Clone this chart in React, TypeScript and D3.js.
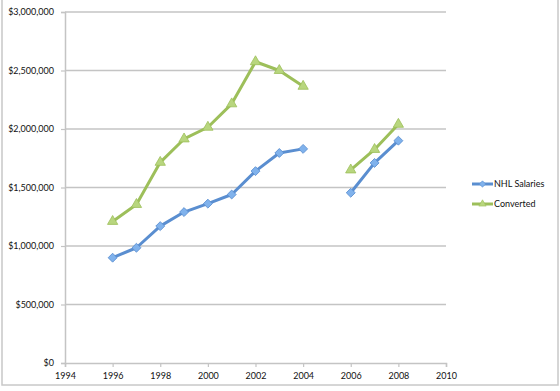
import React, { useEffect, useRef } from 'react';
import * as d3 from 'd3';

const years = [1996, 1997, 1998, 1999, 2000, 2001, 2002, 2003, 2004, 2005, 2006, 2007, 2008];
const nhlSalaries = [900000, 985000, 1170000, 1290000, 1362000, 1440000, 1640000, 1795000, 1830000, null, 1455000, 1710000, 1900000];
const converted = [1210000, 1355000, 1715000, 1915000, 2015000, 2215000, 2575000, 2500000, 2365000, null, 1650000, 1825000, 2040000];
const xTicks = [1994, 1996, 1998, 2000, 2002, 2004, 2006, 2008, 2010];
const yTicks = [0, 500000, 1000000, 1500000, 2000000, 2500000, 3000000];

const width = 560;
const height = 391;

const App = () => {
	const ref = useRef<SVGSVGElement>(null);

	useEffect(() => {
		if (!ref.current) return;
		const svg = d3.select(ref.current);
		svg.selectAll('*').remove();

		const font = 'Lato, "Open Sans", sans-serif';
		const gridColor = '#c4c4c4';

		const x = d3.scaleLinear().domain([1994, 2010]).range([65, 446]);
		const y = d3.scaleLinear().domain([0, 3000000]).range([363, 12]);

		// chart frame
		svg.append('rect')
			.attr('x', 2)
			.attr('y', -2)
			.attr('width', 556)
			.attr('height', 387)
			.attr('fill', '#fff')
			.attr('stroke', '#c8c8c8')
			.attr('stroke-width', 1.5);

		// gridlines
		svg.append('g')
			.selectAll('line')
			.data(yTicks.slice(1))
			.join('line')
			.attr('x1', x(1994))
			.attr('x2', x(2010))
			.attr('y1', d => y(d))
			.attr('y2', d => y(d))
			.attr('stroke', gridColor)
			.attr('stroke-width', 1.5);

		const fmt = (v: number) => '$' + d3.format(',')(v);

		const yAxis = svg.append('g')
			.attr('transform', `translate(${x(1994)},0)`)
			.call(d3.axisLeft(y).tickValues(yTicks).tickFormat(d => fmt(+d)).tickSize(4).tickPadding(7));
		const xAxis = svg.append('g')
			.attr('transform', `translate(0,${y(0)})`)
			.call(d3.axisBottom(x).tickValues(xTicks).tickFormat(d3.format('d')).tickSize(4).tickPadding(6));

		[yAxis, xAxis].forEach(a => {
			a.select('.domain').attr('stroke', gridColor).attr('stroke-width', 1.5);
			a.selectAll('.tick line').attr('stroke', gridColor).attr('stroke-width', 1.2);
			a.selectAll('.tick text')
				.attr('fill', '#111')
				.style('font-family', font)
				.style('font-size', '9px');
		});

		const series = [
			{ name: 'NHL Salaries', values: nhlSalaries, line: '#5a8ed0', fill: '#80b2ec', shape: d3.symbolSquare, rot: 45, size: 40 },
			{ name: 'Converted', values: converted, line: '#9dbf5a', fill: '#b8d67e', shape: d3.symbolTriangle, rot: 0, size: 46 },
		];

		const line = d3.line<[number, number | null]>()
			.defined(d => d[1] != null)
			.x(d => x(d[0]))
			.y(d => y(d[1] as number));

		series.forEach(s => {
			const pts: [number, number | null][] = years.map((yr, i) => [yr, s.values[i]]);
			svg.append('path')
				.datum(pts)
				.attr('d', line)
				.attr('fill', 'none')
				.attr('stroke', s.line)
				.attr('stroke-width', 3)
				.attr('stroke-linejoin', 'round');

			svg.append('g')
				.selectAll('path')
				.data(pts.filter(d => d[1] != null))
				.join('path')
				.attr('transform', d => `translate(${x(d[0])},${y(d[1] as number)}) rotate(${s.rot})`)
				.attr('d', d3.symbol().type(s.shape).size(s.size))
				.attr('fill', s.fill)
				.attr('stroke', s.line)
				.attr('stroke-width', 0.8)
				.attr('stroke-linejoin', 'round');
		});

		// legend
		const legend = svg.append('g').attr('transform', 'translate(472,184)');
		legend.selectAll('g')
			.data(series)
			.join('g')
			.attr('transform', (d, i) => `translate(0,${i * 20})`)
			.each(function (d) {
				const g = d3.select(this);
				g.append('line')
					.attr('x1', 0)
					.attr('x2', 21)
					.attr('stroke', d.line)
					.attr('stroke-width', 3);
				g.append('path')
					.attr('transform', `translate(10.5,0) rotate(${d.rot})`)
					.attr('d', d3.symbol().type(d.shape).size(d.size * 0.5))
					.attr('fill', d.fill)
					.attr('stroke', d.line)
					.attr('stroke-width', 0.6);
				g.append('text')
					.attr('x', 22)
					.attr('dy', '0.35em')
					.attr('fill', '#111')
					.style('font-family', font)
					.style('font-size', '9px')
					.text(d.name);
			});
	}, []);

	return (
		<div style={{ position: 'absolute', left: 0, top: 0 }}>
			<svg ref={ref} width={width} height={height} style={{ display: 'block' }} />
		</div>
	);
};

export default App;
